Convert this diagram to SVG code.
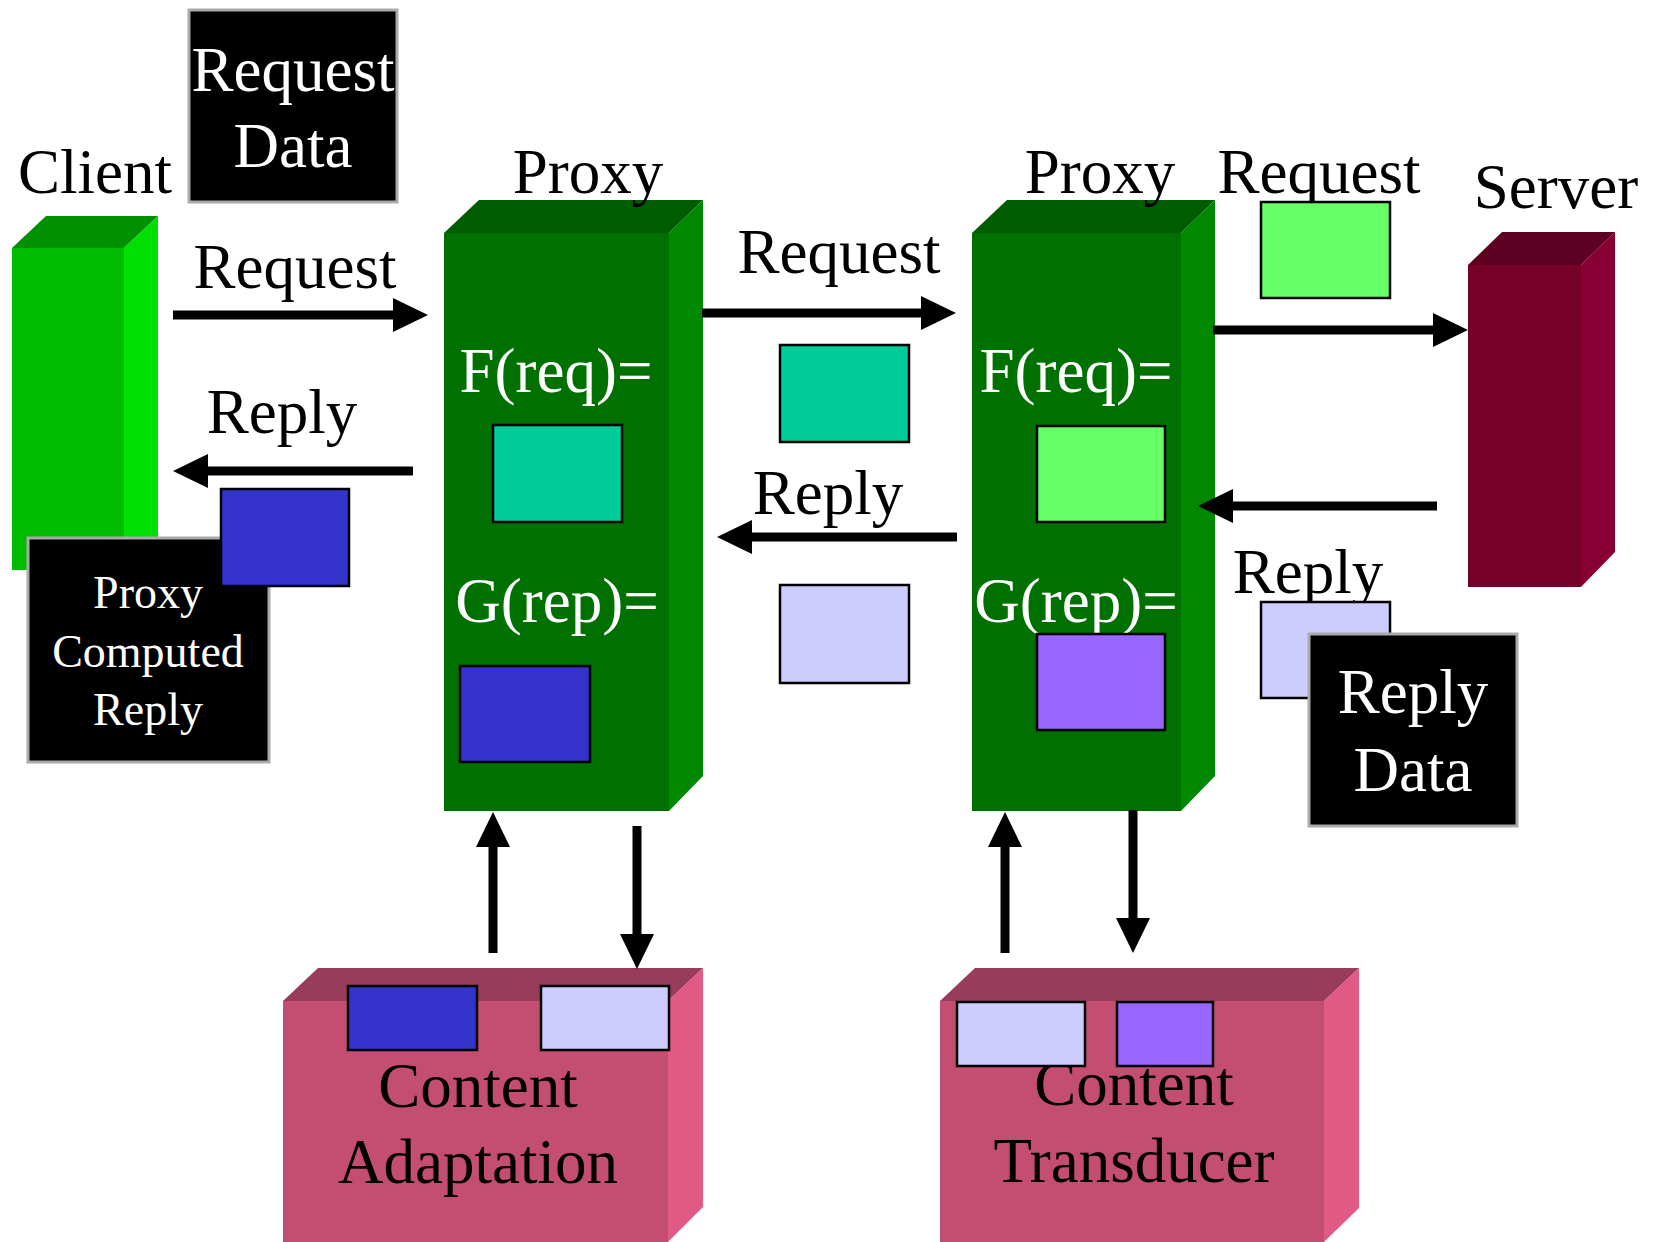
<svg xmlns="http://www.w3.org/2000/svg" width="1657" height="1242" viewBox="0 0 1657 1242">
<style>
text{font-family:"Liberation Serif","Times New Roman",serif;font-size:63px;text-anchor:middle;fill:#000}
.w{fill:#fff}
.sm{font-size:46px}
.box{stroke:#000;stroke-width:2.5}
.blk{fill:#000;stroke:#aaaaaa;stroke-width:3}
.arr{stroke:#000;stroke-width:9;fill:none;marker-end:url(#ah)}
</style>
<defs>
<marker id="ah" markerUnits="userSpaceOnUse" markerWidth="36" markerHeight="36" refX="0" refY="17" orient="auto">
<path d="M0,0 L35,17 L0,34 Z" fill="#000"/>
</marker>
</defs>
<rect width="1657" height="1242" fill="#fff"/>

<g id="client">
<rect x="12" y="248" width="112" height="322" fill="#00bb00"/>
<polygon points="12,248 46,216 158,216 124,248" fill="#009000"/>
<polygon points="124,248 158,216 158,538 124,570" fill="#00e000"/>
<text x="95" y="193">Client</text>
</g>

<g id="request-data">
<rect class="blk" x="189" y="10" width="208" height="192"/>
<text class="w" x="293" y="91">Request</text>
<text class="w" x="293" y="167">Data</text>
</g>

<g id="proxy-computed-reply">
<rect class="blk" x="28" y="538" width="241" height="224"/>
<text class="w sm" x="148" y="608">Proxy</text>
<text class="w sm" x="148" y="667">Computed</text>
<text class="w sm" x="148" y="725">Reply</text>
<rect class="box" x="221" y="489" width="128" height="97" fill="#3333cc"/>
</g>

<g id="proxy1">
<rect x="444" y="233" width="225" height="578" fill="#007000"/>
<polygon points="444,233 479,200 703,200 669,233" fill="#005c00"/>
<polygon points="669,233 703,200 703,776 669,811" fill="#008800"/>
<text x="588" y="193">Proxy</text>
<text class="w" x="556" y="392">F(req)=</text>
<rect class="box" x="493" y="425" width="129" height="97" fill="#00cc99"/>
<text class="w" x="557" y="622">G(rep)=</text>
<rect class="box" x="460" y="666" width="130" height="96" fill="#3333cc"/>
</g>

<g id="proxy2">
<rect x="972" y="233" width="209" height="578" fill="#007000"/>
<polygon points="972,233 1007,200 1215,200 1181,233" fill="#005c00"/>
<polygon points="1181,233 1215,200 1215,776 1181,811" fill="#008800"/>
<text x="1100" y="193">Proxy</text>
<text class="w" x="1076" y="392">F(req)=</text>
<rect class="box" x="1037" y="426" width="128" height="96" fill="#66ff66"/>
<text class="w" x="1076" y="622">G(rep)=</text>
<rect class="box" x="1037" y="634" width="128" height="96" fill="#9966ff"/>
</g>

<g id="server">
<rect x="1468" y="265" width="113" height="322" fill="#770029"/>
<polygon points="1468,265 1502,232 1615,232 1581,265" fill="#5e0022"/>
<polygon points="1581,265 1615,232 1615,552 1581,587" fill="#880033"/>
<text x="1556" y="208">Server</text>
</g>

<g id="content-adaptation">
<rect x="283" y="1001" width="385" height="241" fill="#c44e72"/>
<polygon points="283,1001 318,968 703,968 668,1001" fill="#993b5a"/>
<polygon points="668,1001 703,968 703,1207 668,1242" fill="#e05a85"/>
<text x="478" y="1107">Content</text>
<text x="478" y="1183">Adaptation</text>
<rect class="box" x="348" y="986" width="129" height="64" fill="#3333cc"/>
<rect class="box" x="541" y="986" width="128" height="64" fill="#ccccff"/>
</g>

<g id="content-transducer">
<rect x="940" y="1001" width="384" height="241" fill="#c44e72"/>
<polygon points="940,1001 975,968 1359,968 1324,1001" fill="#993b5a"/>
<polygon points="1324,1001 1359,968 1359,1208 1324,1242" fill="#e05a85"/>
<text x="1134" y="1105">Content</text>
<text x="1134" y="1182">Transducer</text>
<rect class="box" x="957" y="1002" width="128" height="64" fill="#ccccff"/>
<rect class="box" x="1117" y="1002" width="96" height="64" fill="#9966ff"/>
</g>

<g id="messages">
<rect class="box" x="780" y="345" width="129" height="97" fill="#00cc99"/>
<rect class="box" x="780" y="585" width="129" height="98" fill="#ccccff"/>
<text x="1319" y="193">Request</text>
<rect class="box" x="1261" y="202" width="129" height="96" fill="#66ff66"/>
<text x="1308" y="593">Reply</text>
<rect class="box" x="1261" y="602" width="129" height="96" fill="#ccccff"/>
</g>

<g id="reply-data">
<rect class="blk" x="1309" y="634" width="208" height="192"/>
<text class="w" x="1413" y="713">Reply</text>
<text class="w" x="1413" y="791">Data</text>
</g>

<g id="connectors">
<text x="295" y="288">Request</text>
<path class="arr" d="M173,315 H393"/>
<text x="282" y="433">Reply</text>
<path class="arr" d="M413,471 H208"/>
<text x="839" y="273">Request</text>
<path class="arr" d="M702,313 H921"/>
<text x="828" y="514">Reply</text>
<path class="arr" d="M957,537 H752"/>
<path class="arr" d="M1213,330 H1433"/>
<path class="arr" d="M1437,506 H1233"/>
<path class="arr" d="M493,953 V847"/>
<path class="arr" d="M637,826 V934"/>
<path class="arr" d="M1005,953 V847"/>
<path class="arr" d="M1133,810 V918"/>
</g>
</svg>
